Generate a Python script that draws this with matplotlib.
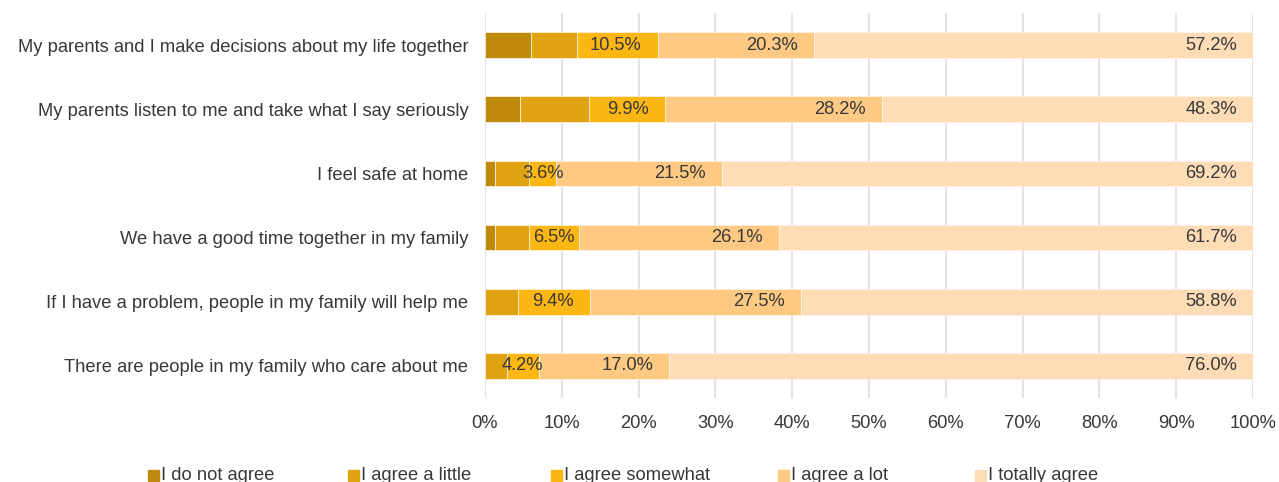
import matplotlib
matplotlib.use('Agg')
import matplotlib.pyplot as plt
from matplotlib.patches import Rectangle
import numpy as np

plt.rcParams['font.family'] = ['Liberation Sans', 'DejaVu Sans']

# survey statements, top to bottom
statements = [
    "My parents and I make decisions about my life together",
    "My parents listen to me and take what I say seriously",
    "I feel safe at home",
    "We have a good time together in my family",
    "If I have a problem, people in my family will help me",
    "There are people in my family who care about me",
]
answers = ["I do not agree", "I agree a little", "I agree somewhat",
           "I agree a lot", "I totally agree"]

# shares in percent, one list per answer (same order as statements)
not_agree = [6.0, 4.5, 1.3, 1.3, 0.0, 0.0]
agree_little = [6.0, 9.1, 4.4, 4.4, 4.3, 2.8]
agree_somewhat = [10.5, 9.9, 3.6, 6.5, 9.4, 4.2]
agree_lot = [20.3, 28.2, 21.5, 26.1, 27.5, 17.0]
totally_agree = [57.2, 48.3, 69.2, 61.7, 58.8, 76.0]

colors = ["#C08A0C", "#E0A413", "#FDB714", "#FEC982", "#FEDDB6"]
labelled = [False, False, True, True, True]
text_col = "#383838"
fs = 13.2

W, H = 1279, 482
fig = plt.figure(figsize=(W / 100, H / 100), dpi=100)
ax = fig.add_axes([485 / W, 1 - 398 / H, (1253 - 485) / W, (398 - 13) / H])

series = [not_agree, agree_little, agree_somewhat, agree_lot, totally_agree]
ypos = np.arange(len(statements))
left = np.zeros(len(statements))
for vals, col, lab in zip(series, colors, labelled):
    vals = np.array(vals)
    ax.barh(ypos, vals, left=left, height=0.4, color=col, edgecolor='#FFF4E6',
            linewidth=0.5, zorder=3)
    if lab:
        for y, l, v in zip(ypos, left, vals):
            txt = f"{v:.1f}%"
            tw = 1.15 * len(txt)  # rough label width in percent units
            if v >= tw + 4.2:
                ax.text(l + v - 2.1, y, txt, ha='right', va='center',
                        fontsize=fs, color=text_col, zorder=4)
            else:
                ax.text(l + v / 2, y, txt, ha='center', va='center',
                        fontsize=fs, color=text_col, zorder=4)
    left = left + vals

ax.set_xlim(0, 100)
ax.set_ylim(len(statements) - 0.5, -0.5)
ax.set_xticks(np.arange(0, 101, 10))
ax.set_xticklabels([f"{t}%" for t in range(0, 101, 10)])
ax.set_yticks(ypos)
ax.set_yticklabels(statements)
ax.tick_params(axis='both', length=0, labelsize=fs, labelcolor=text_col)
ax.tick_params(axis='y', pad=12)
ax.tick_params(axis='x', pad=12)
ax.grid(axis='x', color='#E3E3E3', linewidth=1.5, zorder=0)
for s in ax.spines.values():
    s.set_visible(False)

# legend entries along the bottom
leg_x = [148, 348, 551, 778, 975]
leg_y = 475
for x, name, col in zip(leg_x, answers, colors):
    fig.patches.append(Rectangle((x / W, 1 - (leg_y + 6) / H), 11 / W, 11 / H,
                                 transform=fig.transFigure, color=col))
    fig.text((x + 13) / W, 1 - leg_y / H, name, ha='left', va='center',
             fontsize=fs, color=text_col)

fig.savefig("out.png", dpi=100)
